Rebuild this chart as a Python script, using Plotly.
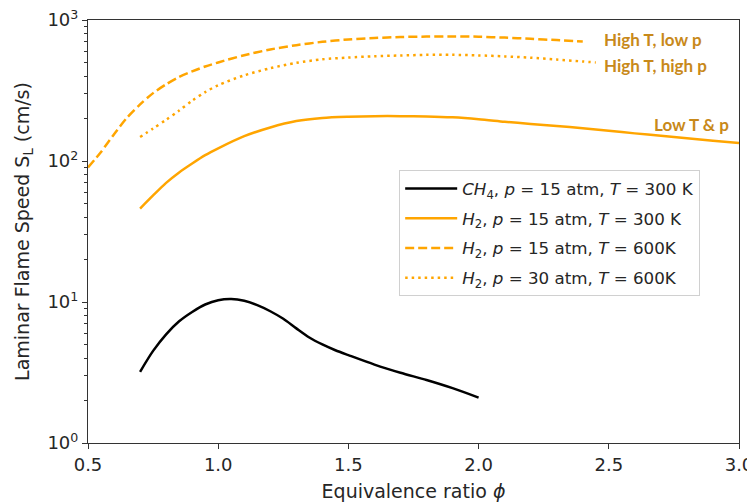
import plotly.graph_objects as go

# CH4, p=15 atm, T=300 K
phi_ch4 = [0.70, 0.75, 0.80, 0.85, 0.90, 0.95, 1.00, 1.05, 1.10, 1.15, 1.20, 1.25, 1.30,
           1.35, 1.40, 1.45, 1.50, 1.60, 1.70, 1.80, 1.90, 2.00]
sl_ch4 = [3.2, 4.5, 5.9, 7.3, 8.5, 9.6, 10.3, 10.5, 10.2, 9.5, 8.6, 7.6, 6.5,
          5.6, 5.0, 4.55, 4.2, 3.6, 3.15, 2.8, 2.45, 2.1]

# H2, p=15 atm, T=300 K
phi_h2_lo = [0.70, 0.75, 0.80, 0.85, 0.90, 0.95, 1.00, 1.10, 1.20, 1.30, 1.40, 1.50, 1.60,
             1.70, 1.80, 1.90, 2.00, 2.10, 2.20, 2.30, 2.40, 2.50, 2.60, 2.70, 2.80, 2.90, 3.00]
sl_h2_lo = [46, 57, 70, 83, 96, 110, 123, 150, 173, 192, 202, 206, 208,
            208, 207, 204, 198, 190, 183, 177, 171, 164, 157, 151, 145, 139, 134]

# H2, p=15 atm, T=600 K
phi_h2_hT = [0.50, 0.55, 0.60, 0.65, 0.70, 0.75, 0.80, 0.85, 0.90, 0.95, 1.00, 1.10, 1.20,
             1.30, 1.40, 1.50, 1.60, 1.70, 1.80, 1.90, 2.00, 2.10, 2.20, 2.30, 2.40]
sl_h2_hT = [90, 116, 155, 203, 252, 303, 350, 395, 432, 468, 500, 563, 618,
            663, 700, 728, 745, 757, 763, 765, 761, 750, 736, 720, 705]

# H2, p=30 atm, T=600 K
phi_h2_hThp = [0.70, 0.75, 0.80, 0.85, 0.90, 0.95, 1.00, 1.10, 1.20, 1.30, 1.40, 1.50, 1.60,
               1.70, 1.80, 1.90, 2.00, 2.10, 2.20, 2.30, 2.40, 2.45]
sl_h2_hThp = [148, 170, 196, 228, 268, 308, 345, 405, 455, 497, 526, 542, 553,
              560, 566, 566, 561, 552, 540, 524, 508, 500]

x_ticks = [0.5, 1.0, 1.5, 2.0, 2.5, 3.0]
x_tick_text = ["0.5", "1.0", "1.5", "2.0", "2.5", "3.0"]
y_ticks = [1, 10, 100, 1000]
y_tick_text = ["10<sup>0</sup>", "10<sup>1</sup>", "10<sup>2</sup>", "10<sup>3</sup>"]

ORANGE = "#FFA500"
ANN = "#C8891A"
FONT = "DejaVu Sans"
TXT = "#262626"

fig = go.Figure()
fig.add_trace(go.Scatter(x=phi_ch4, y=sl_ch4, mode="lines", legendgroup="a",
                         line=dict(color="black", width=2.5, shape="spline", smoothing=0.8),
                         name="<i>CH</i><sub>4</sub>, <i>p</i> = 15 atm, <i>T</i> = 300 K"))
fig.add_trace(go.Scatter(x=phi_h2_lo, y=sl_h2_lo, mode="lines", legendgroup="b",
                         line=dict(color=ORANGE, width=2.5, shape="spline", smoothing=0.8),
                         name="<i>H</i><sub>2</sub>, <i>p</i> = 15 atm, <i>T</i> = 300 K"))
fig.add_trace(go.Scatter(x=phi_h2_hT, y=sl_h2_hT, mode="lines", legendgroup="c",
                         line=dict(color=ORANGE, width=2.5, dash="9px,4px", shape="spline", smoothing=0.8),
                         name="<i>H</i><sub>2</sub>, <i>p</i> = 15 atm, <i>T</i> = 600K"))
fig.add_trace(go.Scatter(x=phi_h2_hThp, y=sl_h2_hThp, mode="lines", legendgroup="d",
                         line=dict(color=ORANGE, width=2.5, dash="2.5px,4px", shape="spline", smoothing=0.8),
                         name="<i>H</i><sub>2</sub>, <i>p</i> = 30 atm, <i>T</i> = 600K"))

minor_vals = [m * d for d in (1, 10, 100) for m in range(2, 10)]

fig.update_layout(
    width=747, height=496,
    margin=dict(l=80, r=16, t=12, b=61),
    plot_bgcolor="white", paper_bgcolor="white",
    font=dict(family=FONT, size=18, color=TXT),
    showlegend=True,
    legend=dict(x=0.478, y=0.645, xanchor="left", yanchor="top",
                bgcolor="white", bordercolor="#d0d0d0", borderwidth=1,
                font=dict(family=FONT, size=16.7, color=TXT),
                itemwidth=52, tracegroupgap=5, traceorder="grouped"),
    xaxis=dict(range=[0.5, 3.0], tickvals=x_ticks, ticktext=x_tick_text,
               ticks="outside", ticklen=5, tickwidth=1, tickcolor="#333",
               tickfont=dict(family=FONT, size=18, color=TXT),
               ticklabeloverflow="allow",
               showline=True, linecolor="#333", linewidth=1.2, mirror=True,
               showgrid=False, zeroline=False, automargin=False,
               title=dict(text="Equivalence ratio <i>ϕ</i>", standoff=10,
                          font=dict(family=FONT, size=19, color=TXT))),
    yaxis=dict(type="log", range=[0, 3], tickvals=y_ticks, ticktext=y_tick_text,
               ticks="outside", ticklen=5, tickwidth=1, tickcolor="#333",
               tickfont=dict(family=FONT, size=18, color=TXT),
               ticklabeloverflow="allow",
               minor=dict(tickvals=minor_vals, ticks="outside", ticklen=3, tickcolor="#333", showgrid=False),
               showline=True, linecolor="#333", linewidth=1.2, mirror=True,
               showgrid=False, zeroline=False, automargin=False,
               title=dict(text="Laminar Flame Speed S<sub>L</sub> (cm/s)", standoff=12,
                          font=dict(family=FONT, size=19, color=TXT))),
)

ann_font = dict(family="Lato", size=17, color=ANN, weight="bold")
fig.add_annotation(x=2.474, y=2.862, text="<b>High T, low p</b>", showarrow=False,
                   xanchor="left", yanchor="middle", font=ann_font)
fig.add_annotation(x=2.474, y=2.678, text="<b>High T, high p</b>", showarrow=False,
                   xanchor="left", yanchor="middle", font=ann_font)
fig.add_annotation(x=2.97, y=2.259, text="<b>Low T &amp; p</b>", showarrow=False,
                   xanchor="right", yanchor="middle", font=ann_font)

fig.write_html("out.html")
